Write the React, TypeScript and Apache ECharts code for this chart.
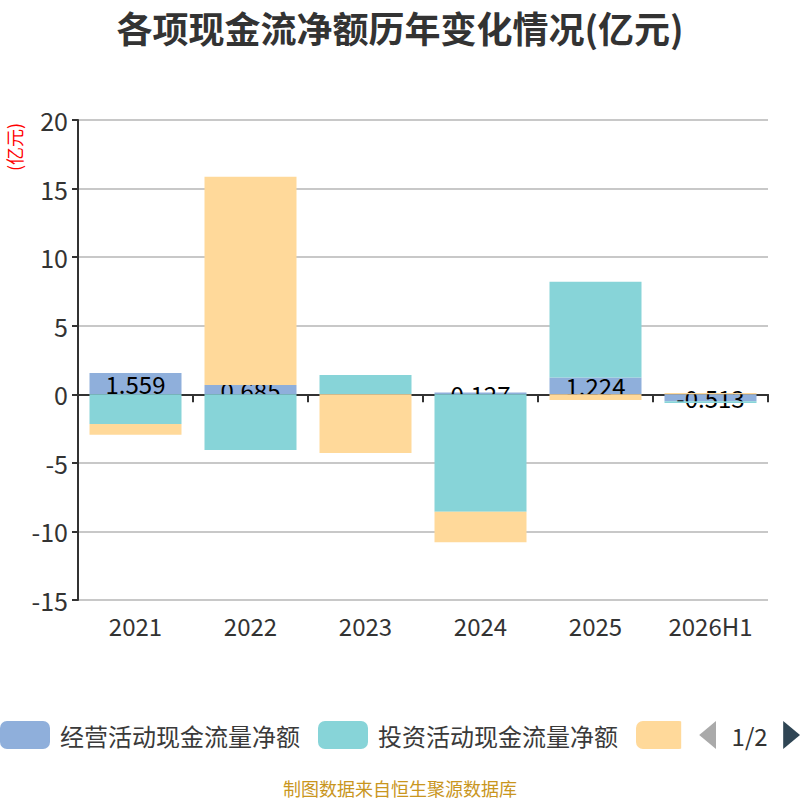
import React, { useEffect, useRef } from "react";
import * as echarts from "echarts";

const categories = ["2021", "2022", "2023", "2024", "2025", "2026H1"];
const operating = [1.559, 0.685, null, 0.127, 1.224, -0.513];
const investing = [-2.17, -4.06, 1.41, -8.56, 6.99, -0.12];
const financing = [-0.78, 15.18, -4.28, -2.23, -0.42, 0.1];
const seriesNames = ["经营活动现金流量净额", "投资活动现金流量净额", "筹资活动现金流量净额"];
const colors = ["#8FAFDB", "#87D4D8", "#FFD99A"];

export default function App() {
  const ref = useRef<HTMLDivElement>(null);
  useEffect(() => {
    document.body.style.margin = "0";
    const chart = echarts.init(ref.current!, null, { renderer: "svg" });
    const font = "'Noto Sans CJK SC', 'Noto Sans', sans-serif";
    chart.setOption({
      animation: false,
      textStyle: { fontFamily: font },
      title: {
        text: "各项现金流净额历年变化情况(亿元)",
        left: "center",
        top: 4,
        textStyle: { fontSize: 36, fontWeight: "bold", color: "#333", fontFamily: font },
      },
      graphic: [
        {
          type: "text",
          x: 5,
          y: 171,
          rotation: Math.PI / 2,
          style: { text: "(亿元)", fill: "#ff0000", fontSize: 18, fontFamily: font },
        },
        {
          type: "text",
          left: "center",
          top: 779,
          style: { text: "制图数据来自恒生聚源数据库", fill: "#C9961E", fontSize: 18, fontFamily: font },
        },
      ],
      legend: {
        type: "scroll",
        data: seriesNames,
        left: 0,
        right: 0,
        top: 721,
        padding: 0,
        itemWidth: 50,
        itemHeight: 28,
        itemGap: 18,
        icon: "roundRect",
        textStyle: { fontSize: 24, color: "#3a3a3a", fontFamily: font, padding: [0, 0, 6, 5] },
        pageIconSize: [18, 28],
        pageButtonItemGap: 5,
        pageButtonGap: 18,
        pageIconColor: "#2f4554",
        pageIconInactiveColor: "#aaa",
        pageTextStyle: { fontSize: 24, color: "#333", fontFamily: font },
      },
      grid: { left: 78, right: 32, top: 120, bottom: 200 },
      xAxis: [
        {
          type: "category",
          data: categories,
          axisLine: { onZero: true, lineStyle: { color: "#333", width: 2 } },
          axisTick: { show: true, length: 8, lineStyle: { color: "#333", width: 2 } },
          axisLabel: { show: false },
        },
        {
          type: "category",
          data: categories,
          position: "bottom",
          axisLine: { show: false, onZero: false },
          axisTick: { show: false },
          axisLabel: { fontSize: 24, color: "#333", margin: 13 },
        },
      ],
      yAxis: {
        type: "value",
        min: -15,
        max: 20,
        interval: 5,
        axisLine: { show: true, lineStyle: { color: "#333", width: 2 } },
        axisTick: { show: true, length: 6, lineStyle: { color: "#333", width: 2 } },
        axisLabel: { fontSize: 25, color: "#333", margin: 10 },
        splitLine: { lineStyle: { color: "#c8c8c8", width: 2 } },
      },
      series: [
        {
          name: seriesNames[0],
          type: "bar",
          stack: "total",
          data: operating,
          barWidth: "80%",
          z: 1,
          itemStyle: { color: colors[0] },
          label: {
            show: true,
            position: "inside",
            fontSize: 24,
            color: "#000",
            fontFamily: font,
            padding: [0, 0, 3, 0],
            formatter: (p: any) => Number(p.value).toFixed(3),
          },
        },
        {
          name: seriesNames[1],
          type: "bar",
          stack: "total",
          data: investing,
          barWidth: "80%",
          z: 2,
          itemStyle: { color: colors[1] },
        },
        {
          name: seriesNames[2],
          type: "bar",
          stack: "total",
          data: financing,
          barWidth: "80%",
          z: 2,
          itemStyle: { color: colors[2] },
        },
      ],
    });
    return () => chart.dispose();
  }, []);
  return <div ref={ref} style={{ width: 800, height: 800, position: "absolute", left: 0, top: 0 }} />;
}
